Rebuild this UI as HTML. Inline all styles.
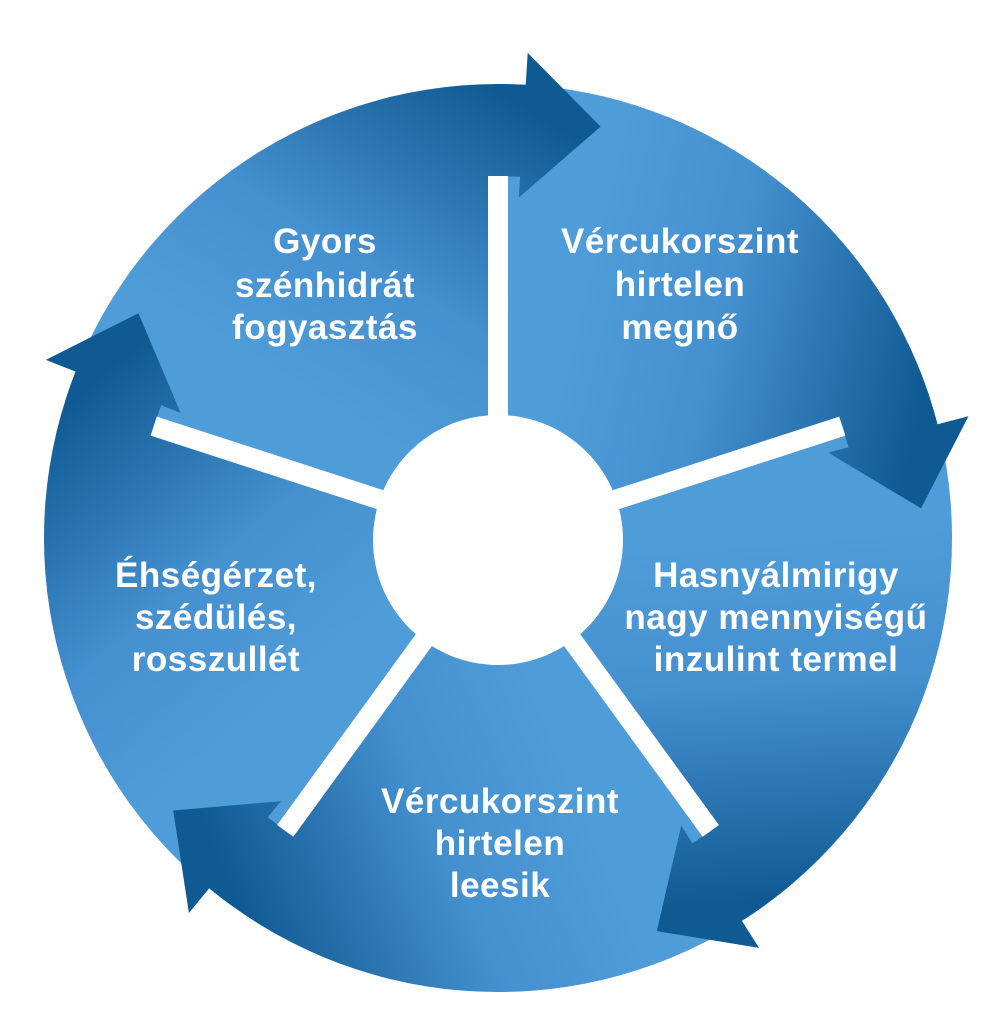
<!DOCTYPE html>
<html><head><meta charset="utf-8"><style>
html,body{margin:0;padding:0;background:#fff;width:996px;height:1024px;overflow:hidden}
svg{display:block}
text{font-family:"Liberation Sans",sans-serif;font-weight:bold;font-size:35px;letter-spacing:0.5px;fill:#fff;text-anchor:middle}
</style></head><body>
<svg id="s" width="996" height="1024" viewBox="0 0 996 1024">
<defs id="d"></defs>
<g id="g"></g>
<text x="325" y="253">Gyors</text>
<text x="325" y="297">szénhidrát</text>
<text x="325" y="339">fogyasztás</text>
<text x="680" y="253">Vércukorszint</text>
<text x="680" y="296">hirtelen</text>
<text x="680" y="339">megnő</text>
<text x="776" y="587">Hasnyálmirigy</text>
<text x="776" y="629">nagy mennyiségű</text>
<text x="776" y="671">inzulint termel</text>
<text x="500" y="813">Vércukorszint</text>
<text x="500" y="855">hirtelen</text>
<text x="500" y="897">leesik</text>
<text x="216" y="587">Éhségérzet,</text>
<text x="216" y="629">szédülés,</text>
<text x="216" y="671">rosszullét</text>
</svg>
<script>
var cx=498,cy=538,R=454,RI=362;
function P(a,r){a=a*Math.PI/180;return (cx+r*Math.sin(a)).toFixed(1)+','+(cy-r*Math.cos(a)).toFixed(1);}
function Q(a,r){a=a*Math.PI/180;return [cx+r*Math.sin(a),cy-r*Math.cos(a)];}
var d=document.getElementById("d"),g=document.getElementById("g"),h="",h2="",defs="";
for(var i=0;i<5;i++){
 var s=i*72,e=s+72,b=e+3.5;
 var a1=Q(s+20,200),a2=Q(e+4,430);
 defs+='<linearGradient id="g'+i+'" gradientUnits="userSpaceOnUse" x1="'+a1[0]+'" y1="'+a1[1]+'" x2="'+a2[0]+'" y2="'+a2[1]+'"><stop offset="0" stop-color="#4e9cd8"/><stop offset="0.4" stop-color="#4590cf"/><stop offset="1" stop-color="#105a94"/></linearGradient>';
 h+='<path d="M'+cx+','+cy+' L'+P(s,R)+' A'+R+','+R+' 0 0 1 '+P(e,R)+' Z" fill="url(#g'+i+')"/>';
 h2+='<path d="M'+P(e-0.5,RI)+' L'+P(e-0.5,R)+' A'+R+','+R+' 0 0 1 '+P(b,R)+' L'+P(b,486)+' L'+P(e+14,424)+' L'+P(b,341)+' L'+P(b,RI)+' Z" fill="url(#g'+i+')"/>';
}
for(var i=0;i<5;i++){
 var a=P(i*72,120),bb=P(i*72,RI);
 h2+='<line x1="'+a.split(",")[0]+'" y1="'+a.split(",")[1]+'" x2="'+bb.split(",")[0]+'" y2="'+bb.split(",")[1]+'" stroke="#fff" stroke-width="20"/>';
}
h2+='<circle cx="'+cx+'" cy="'+(cy+2)+'" r="125" fill="#fff"/>';
d.innerHTML=defs;g.innerHTML=h+h2;
</script>
</body></html>
